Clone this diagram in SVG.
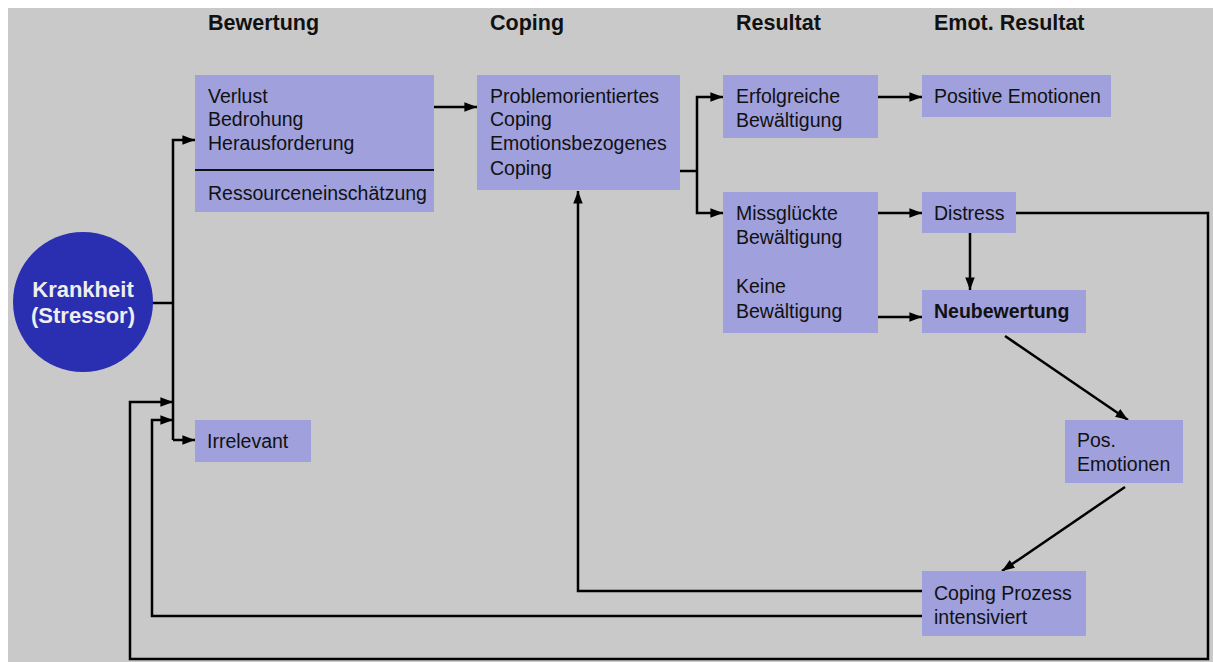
<svg xmlns="http://www.w3.org/2000/svg" width="1213" height="662" viewBox="0 0 1213 662">
<defs>
<marker id="ah" viewBox="0 0 12 10" refX="12" refY="5" markerWidth="5.2" markerHeight="4.2" markerUnits="strokeWidth" orient="auto">
<path d="M0,0.5 L12,5 L0,9.5 z" fill="#000"/>
</marker>
<style>
.bg{fill:#c9c9c9}
.box{fill:#9fa0dc}
.t{font-family:"Liberation Sans","Noto Sans",sans-serif;font-size:19.5px;fill:#111}
.h{font-family:"Liberation Sans","Noto Sans",sans-serif;font-size:21.5px;font-weight:bold;fill:#111}
.b{font-weight:bold}
.w{font-family:"Liberation Sans","Noto Sans",sans-serif;font-size:22px;font-weight:bold;fill:#eee}
.c{fill:none;stroke:#000;stroke-width:2.5}
.a{marker-end:url(#ah)}
</style>
</defs>
<rect width="1213" height="662" fill="#fff"/>
<rect x="8" y="8" width="1205" height="654" class="bg"/>

<g id="headers">
<text class="h" x="208" y="30">Bewertung</text>
<text class="h" x="490" y="30">Coping</text>
<text class="h" x="736" y="30">Resultat</text>
<text class="h" x="934" y="30">Emot. Resultat</text>
</g>

<g id="connectors">
<path class="c" d="M152,303 H173"/>
<path class="c" d="M173,440 V140 H195" marker-end="url(#ah)"/>
<path class="c a" d="M173,440 H195"/>
<path class="c a" d="M433,107 H477"/>
<path class="c" d="M680,171 H697"/>
<path class="c a" d="M697,171 V97 H723"/>
<path class="c a" d="M697,171 V213 H723"/>
<path class="c a" d="M878,97 H922"/>
<path class="c a" d="M878,213 H922"/>
<path class="c a" d="M878,317 H922"/>
<path class="c a" d="M970,233 V290"/>
<path class="c a" d="M1005,336 L1128,420"/>
<path class="c a" d="M1125,487 L1002,571"/>
<path class="c a" d="M922,591 H578 V191"/>
<path class="c a" d="M922,616 H152 V420 H173"/>
<path class="c a" d="M1016,213 H1208 V659 H130 V402 H173"/>
</g>

<g id="krankheit">
<circle cx="83" cy="302" r="70" fill="#2a2eb0"/>
<text class="w" x="83" y="297" text-anchor="middle">Krankheit</text>
<text class="w" x="83" y="323" text-anchor="middle">(Stressor)</text>
</g>

<g id="bewertung">
<rect class="box" x="195" y="75" width="239" height="137"/>
<text class="t" x="208" y="103">Verlust</text>
<text class="t" x="208" y="126">Bedrohung</text>
<text class="t" x="208" y="150">Herausforderung</text>
<line x1="195" y1="170" x2="434" y2="170" stroke="#111" stroke-width="2"/>
<text class="t" x="208" y="200">Ressourceneinschätzung</text>
</g>

<g id="irrelevant">
<rect class="box" x="195" y="420" width="116" height="42"/>
<text class="t" x="207" y="448">Irrelevant</text>
</g>

<g id="coping">
<rect class="box" x="477" y="75" width="203" height="115"/>
<text class="t" x="490" y="103">Problemorientiertes</text>
<text class="t" x="490" y="126">Coping</text>
<text class="t" x="490" y="150">Emotionsbezogenes</text>
<text class="t" x="490" y="175">Coping</text>
</g>

<g id="erfolgreich">
<rect class="box" x="723" y="75" width="155" height="63"/>
<text class="t" x="736" y="103">Erfolgreiche</text>
<text class="t" x="736" y="127">Bewältigung</text>
</g>

<g id="missglueckt">
<rect class="box" x="723" y="192" width="155" height="141"/>
<text class="t" x="736" y="220">Missglückte</text>
<text class="t" x="736" y="244">Bewältigung</text>
<text class="t" x="736" y="293">Keine</text>
<text class="t" x="736" y="318">Bewältigung</text>
</g>

<g id="positive">
<rect class="box" x="922" y="75" width="189" height="42"/>
<text class="t" x="934" y="103">Positive Emotionen</text>
</g>

<g id="distress">
<rect class="box" x="922" y="192" width="94" height="41"/>
<text class="t" x="934" y="220">Distress</text>
</g>

<g id="neubewertung">
<rect class="box" x="922" y="290" width="164" height="43"/>
<text class="t b" x="934" y="318">Neubewertung</text>
</g>

<g id="posemotionen">
<rect class="box" x="1065" y="420" width="118" height="63"/>
<text class="t" x="1077" y="447">Pos.</text>
<text class="t" x="1077" y="471">Emotionen</text>
</g>

<g id="copingprozess">
<rect class="box" x="922" y="571" width="164" height="65"/>
<text class="t" x="934" y="600">Coping Prozess</text>
<text class="t" x="934" y="624">intensiviert</text>
</g>
</svg>
